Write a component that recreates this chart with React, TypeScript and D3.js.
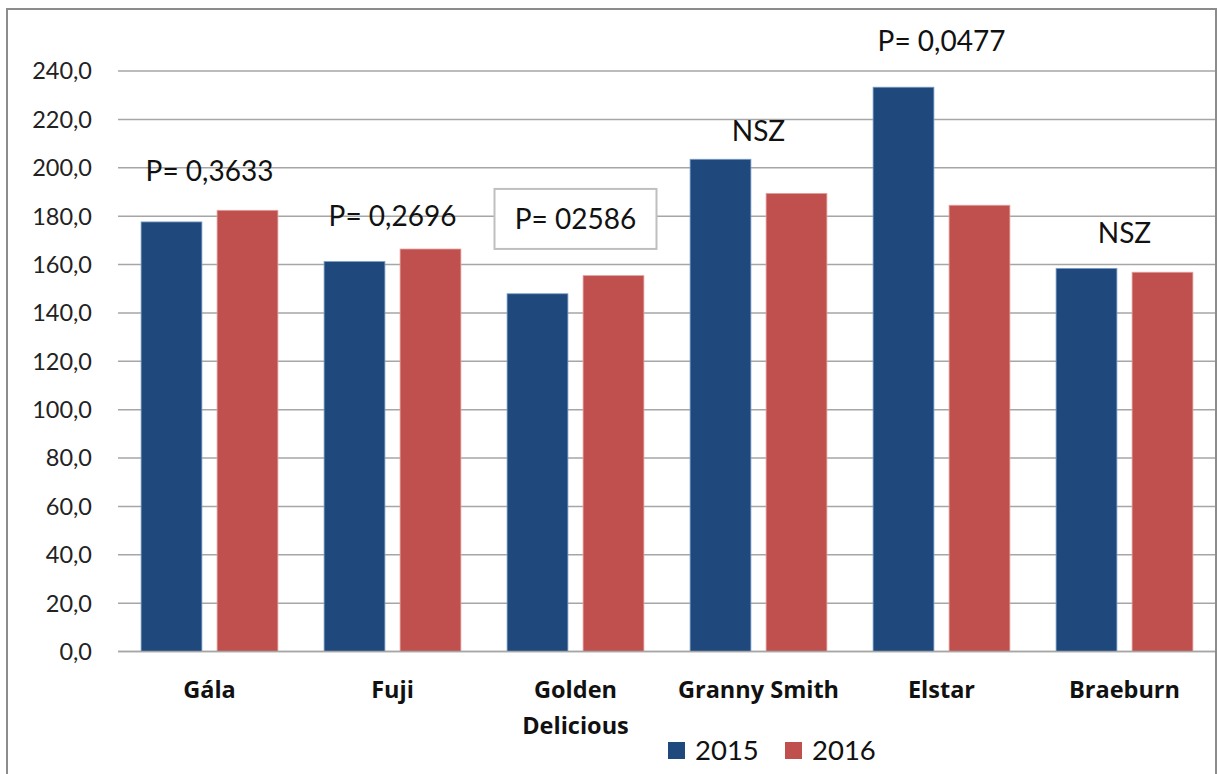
import React from "react";
import * as d3 from "d3";

const categories = ["Gála", "Fuji", "Golden Delicious", "Granny Smith", "Elstar", "Braeburn"];
const seriesNames = ["2015", "2016"];
const values2015 = [177.6, 161.2, 147.9, 203.5, 233.3, 158.4];
const values2016 = [182.4, 166.4, 155.4, 189.4, 184.5, 156.8];
const yTicks = [0, 20, 40, 60, 80, 100, 120, 140, 160, 180, 200, 220, 240];
const annotTexts = ["P= 0,3633", "P= 0,2696", "P= 02586", "NSZ", "P= 0,0477", "NSZ"];
const annotLevels = [194.6, 175.9, 174.5, 211, 248.4, 169];
const annotBoxed = [false, false, true, false, false, false];

const W = 1217;
const H = 774;
const colors = ["#1F497D", "#C0504D"];
const strokes = ["#7a9cc6", "#e5a09e"];
const FONT = "Lato, 'Open Sans', sans-serif";
const BOLDFONT = "'Open Sans', Lato, sans-serif";

export default function App() {
  const x0 = d3.scaleBand<string>().domain(categories).range([118, 1216]).paddingInner(0).paddingOuter(0);
  const x1 = d3
    .scaleBand<string>()
    .domain(seriesNames)
    .range([0, x0.bandwidth()])
    .paddingInner(0.2)
    .paddingOuter(0.304);
  const y = d3.scaleLinear().domain([0, 240]).range([651.5, 71]);
  const series = [values2015, values2016];
  const fmt = (v: number) => d3.format(".1f")(v).replace(".", ",");

  return (
    <div style={{ position: "absolute", left: 0, top: 0 }}>
      <svg width={W} height={H} style={{ display: "block", background: "#fff" }}>
        <rect x={0} y={0} width={W} height={H} fill="#fff" />
        {yTicks.map((t) => (
          <line key={t} x1={118} x2={1216} y1={y(t)} y2={y(t)} stroke="#a6a6a6" strokeWidth={1.5} />
        ))}
        {yTicks.map((t) => (
          <text
            key={"l" + t}
            x={92}
            y={y(t)}
            dy="0.36em"
            textAnchor="end"
            fontFamily={FONT}
            fontSize={23.5}
            fill="#222"
          >
            {fmt(t)}
          </text>
        ))}
        {categories.map((c, i) => (
          <g key={c} transform={`translate(${x0(c)},0)`}>
            {seriesNames.map((s, j) => (
              <rect
                key={s}
                x={x1(s)}
                y={y(series[j][i])}
                width={x1.bandwidth()}
                height={y(0) - y(series[j][i])}
                fill={colors[j]}
                stroke={strokes[j]}
                strokeWidth={0.8}
              />
            ))}
          </g>
        ))}
        <line x1={118} x2={1216} y1={y(0)} y2={y(0)} stroke="#a6a6a6" strokeWidth={1.5} />
        {categories.map((c) => {
          const cx = (x0(c) as number) + x0.bandwidth() / 2;
          const words = c === "Golden Delicious" ? ["Golden", "Delicious"] : [c];
          return (
            <text
              key={"c" + c}
              x={cx}
              y={698}
              textAnchor="middle"
              fontFamily={BOLDFONT}
              fontWeight="bold"
              fontSize={23.5}
              fill="#111"
            >
              {words.map((w, k) => (
                <tspan key={w} x={cx} dy={k === 0 ? 0 : 36}>
                  {w}
                </tspan>
              ))}
            </text>
          );
        })}
        {categories.map((c, i) => {
          const cx = (x0(c) as number) + x0.bandwidth() / 2;
          const by = y(annotLevels[i]);
          return (
            <g key={"a" + c}>
              {annotBoxed[i] && (
                <rect
                  x={cx - 81}
                  y={by - 40.5}
                  width={162}
                  height={60}
                  fill="#fff"
                  stroke="#bfbfbf"
                  strokeWidth={2}
                />
              )}
              <text x={cx} y={by} textAnchor="middle" fontFamily={FONT} fontSize={28} fill="#111">
                {annotTexts[i]}
              </text>
            </g>
          );
        })}
        {seriesNames.map((s, j) => (
          <g key={"lg" + s} transform={`translate(${668 + j * 117},742)`}>
            <rect x={0} y={0} width={17} height={17} fill={colors[j]} />
            <text x={27} y={18} fontFamily={FONT} fontSize={27.5} fill="#111">
              {s}
            </text>
          </g>
        ))}
        <rect x={7} y={9} width={1209} height={780} fill="none" stroke="#8c8c8c" strokeWidth={2} />
      </svg>
    </div>
  );
}
